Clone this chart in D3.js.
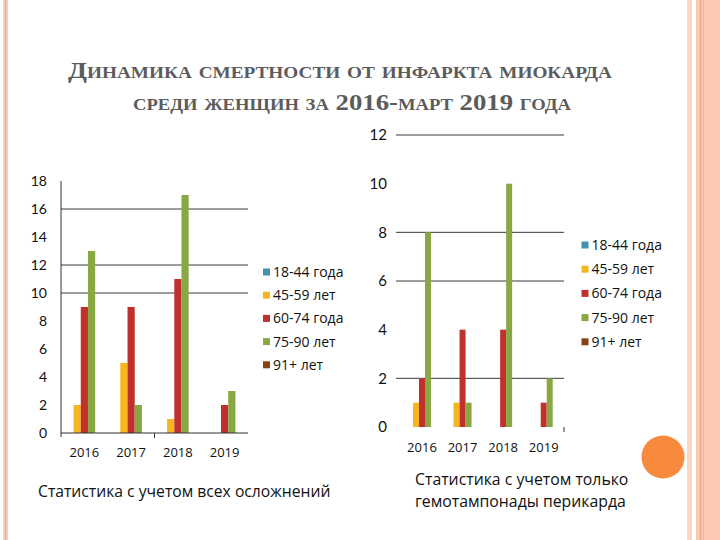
<!DOCTYPE html>
<html><head><meta charset="utf-8">
<script src="https://cdn.jsdelivr.net/npm/d3@7"></script>
<style>html,body{margin:0;padding:0;background:#fff;}svg{display:block;}</style>
</head><body>
<script>
const categories = ["2016", "2017", "2018", "2019"];
const seriesNames = ["18-44 года", "45-59 лет", "60-74 года", "75-90 лет", "91+ лет"];
const seriesColors = ["#3f93aa", "#f7b520", "#c0312d", "#89a843", "#8a4213"];
// left chart: all complications
const leftAge18_44 = [0, 0, 0, 0];
const leftAge45_59 = [2, 5, 1, 0];
const leftAge60_74 = [9, 9, 11, 2];
const leftAge75_90 = [13, 2, 17, 3];
const leftAge91 = [0, 0, 0, 0];
const leftTicks = [0, 2, 4, 6, 8, 10, 12, 14, 16, 18];
const leftGrid = [10, 12, 16];
// right chart: pericardial tamponade only
const rightAge18_44 = [0, 0, 0, 0];
const rightAge45_59 = [1, 1, 0, 0];
const rightAge60_74 = [2, 4, 4, 1];
const rightAge75_90 = [8, 1, 10, 2];
const rightAge91 = [0, 0, 0, 0];
const rightTicks = [0, 2, 4, 6, 8, 10, 12];
const rightGrid = [2, 6, 8, 12];
const titleLine1 = "Динамика смертности от инфаркта миокарда";
const titleLine2 = "среди женщин за 2016-март 2019 года";
const captionLeft = "Статистика с учетом всех осложнений";
const captionRight = ["Статистика с учетом только", "гемотампонады перикарда"];

const leftSeries = [leftAge18_44, leftAge45_59, leftAge60_74, leftAge75_90, leftAge91];
const rightSeries = [rightAge18_44, rightAge45_59, rightAge60_74, rightAge75_90, rightAge91];

const W = 720, H = 540;
const svg = d3.select("body").append("svg").attr("width", W).attr("height", H);
svg.append("rect").attr("width", W).attr("height", H).attr("fill", "#fff");

// decorative slide borders
svg.append("rect").attr("x", 3).attr("y", 0).attr("width", 5).attr("height", H).attr("fill", "#f8cdbb");
svg.append("rect").attr("x", 5).attr("y", 0).attr("width", 1.2).attr("height", H).attr("fill", "#f2ab90");
svg.append("rect").attr("x", 687).attr("y", 0).attr("width", 5).attr("height", H).attr("fill", "#fbd6c6");
svg.append("rect").attr("x", 696).attr("y", 0).attr("width", 24).attr("height", H).attr("fill", "#fbc9b3");
svg.append("rect").attr("x", 700).attr("y", 0).attr("width", 1.2).attr("height", H).attr("fill", "#f0a588");
svg.append("rect").attr("x", 703).attr("y", 0).attr("width", 1).attr("height", H).attr("fill", "#f3b49a");
svg.append("circle").attr("cx", 663).attr("cy", 457).attr("r", 21.5).attr("fill", "#f78a3c");

// title
const titleStyle = "font-variant: small-caps;";
svg.append("text").attr("x", 68).attr("y", 78)
  .attr("font-family", "Liberation Serif, serif").attr("font-weight", "bold").attr("font-size", 23).attr("fill", "#5c5c5c")
  .attr("textLength", 544).attr("lengthAdjust", "spacingAndGlyphs")
  .attr("style", titleStyle).text(titleLine1);
svg.append("text").attr("x", 133).attr("y", 110)
  .attr("font-family", "Liberation Serif, serif").attr("font-weight", "bold").attr("font-size", 23).attr("fill", "#5c5c5c")
  .attr("textLength", 438).attr("lengthAdjust", "spacingAndGlyphs")
  .attr("style", titleStyle).text(titleLine2);

function drawChart(cfg) {
  const g = svg.append("g");
  const x = d3.scaleBand().domain(categories).range(cfg.xRange).paddingInner(0).paddingOuter(0);
  const xs = d3.scaleBand().domain(seriesNames).range([0, x.bandwidth()]).paddingInner(0).paddingOuter(cfg.outerPad);
  const y = d3.scaleLinear().domain(cfg.yDomain).range(cfg.yRange);

  // gridlines
  g.selectAll(".grid").data(cfg.grid).join("line")
    .attr("x1", cfg.gridX0).attr("x2", cfg.xRange[1])
    .attr("y1", d => y(d)).attr("y2", d => y(d))
    .attr("stroke", "#3a3a3a").attr("stroke-width", 1);

  // y labels
  g.selectAll(".yl").data(cfg.ticks).join("text")
    .attr("x", cfg.labelX).attr("y", d => y(d)).attr("dy", "0.36em")
    .attr("text-anchor", "end").attr("font-family", "Lato, sans-serif")
    .attr("font-size", cfg.yFont).attr("fill", "#111").text(d => d);

  // bars
  cfg.series.forEach((vals, si) => {
    g.selectAll(null).data(vals.map((v, i) => ({ v, c: categories[i] }))).join("rect")
      .attr("x", d => x(d.c) + xs(seriesNames[si]))
      .attr("width", xs.bandwidth())
      .attr("y", d => y(d.v))
      .attr("height", d => y(0) - y(d.v))
      .attr("fill", seriesColors[si]);
  });

  // axes
  if (cfg.showAxes) {
    g.append("line").attr("x1", cfg.xRange[0]).attr("x2", cfg.xRange[0])
      .attr("y1", y(cfg.yDomain[1])).attr("y2", y(0) + 4).attr("stroke", "#333");
    g.append("line").attr("x1", cfg.xRange[0]).attr("x2", cfg.xRange[1])
      .attr("y1", y(0)).attr("y2", y(0)).attr("stroke", "#333");
  }
  cfg.tickCats.forEach(c => {
    const tx = c === null ? cfg.xRange[1] : x(c);
    g.append("line").attr("x1", tx).attr("x2", tx).attr("y1", y(0)).attr("y2", y(0) + 5)
      .attr("stroke", "#333");
  });

  // x labels
  g.selectAll(".xl").data(categories).join("text")
    .attr("x", d => x(d) + x.bandwidth() / 2).attr("y", cfg.xLabelY)
    .attr("text-anchor", "middle").attr("font-family", "Open Sans, sans-serif")
    .attr("font-size", 13).attr("fill", "#111").text(d => d);

  // legend
  const lg = g.append("g");
  seriesNames.forEach((s, i) => {
    const ly = cfg.legendY0 + i * cfg.legendStep;
    lg.append("rect").attr("x", cfg.legendX).attr("y", ly - 3.5).attr("width", 7).attr("height", 7)
      .attr("fill", seriesColors[i]);
    lg.append("text").attr("x", cfg.legendX + 10).attr("y", ly).attr("dy", "0.35em")
      .attr("font-family", "Open Sans, sans-serif").attr("font-size", 14).attr("fill", "#111").text(s);
  });
}

drawChart({
  series: leftSeries, xRange: [61, 248], outerPad: 0.745, yDomain: [0, 18], yRange: [433, 181],
  grid: leftGrid, gridX0: 61, ticks: leftTicks, labelX: 47, yFont: 14, showAxes: true,
  tickCats: ["2018"], xLabelY: 457, legendX: 263, legendY0: 272, legendStep: 23.2
});
drawChart({
  series: rightSeries, xRange: [401.7, 564], outerPad: 0.88, yDomain: [0, 12], yRange: [427, 135],
  grid: rightGrid, gridX0: 396, ticks: rightTicks, labelX: 387, yFont: 15, showAxes: false,
  tickCats: [null], xLabelY: 452, legendX: 581.5, legendY0: 245, legendStep: 24.2
});

// captions
svg.append("text").attr("x", 38).attr("y", 497).attr("font-family", "Open Sans, sans-serif")
  .attr("font-size", 15.7).attr("fill", "#111").text(captionLeft);
captionRight.forEach((t, i) => {
  svg.append("text").attr("x", 415).attr("y", 485 + i * 21.5).attr("font-family", "Open Sans, sans-serif")
    .attr("font-size", 15.8).attr("fill", "#111").text(t);
});
</script>
</body></html>
